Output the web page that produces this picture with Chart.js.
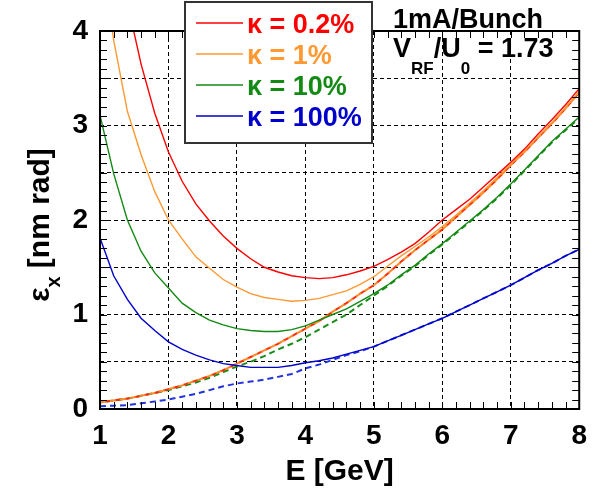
<!DOCTYPE html>
<html>
<head>
<meta charset="utf-8">
<title>Emittance vs energy</title>
<script src="https://cdn.jsdelivr.net/npm/chart.js@4.4.1/dist/chart.umd.min.js"></script>
<style>
    html, body { margin: 0; padding: 0; background: #fff; }
    #wrap { width: 597px; height: 491px; }
</style>
</head>
<body>
<div id="wrap"><canvas id="emitChart" width="597" height="491"></canvas></div>
<script>
// Beam energy [GeV], one point every 0.2 GeV.
const energy = [1.0, 1.2, 1.4, 1.6, 1.8, 2.0, 2.2, 2.4, 2.6, 2.8, 3.0, 3.2, 3.4, 3.6, 3.8, 4.0, 4.2, 4.4,
                4.6, 4.8, 5.0, 5.2, 5.4, 5.6, 5.8, 6.0, 6.2, 6.4, 6.6, 6.8, 7.0, 7.2, 7.4, 7.6, 7.8, 8.0];

// Emittance with 1 mA/bunch [nm rad] (solid lines).
const kappa02  = [6.2, 5.0, 4.3, 3.65, 3.13, 2.72, 2.41, 2.17, 1.99, 1.83, 1.70, 1.59, 1.50, 1.45, 1.41, 1.39, 1.38, 1.39,
                  1.42, 1.46, 1.51, 1.58, 1.66, 1.75, 1.87, 2.00, 2.11, 2.22, 2.35, 2.48, 2.61, 2.75, 2.91, 3.06, 3.22, 3.39];
const kappa1   = [5.0, 3.9, 3.15, 2.69, 2.30, 2.00, 1.80, 1.61, 1.49, 1.37, 1.29, 1.22, 1.18, 1.16, 1.14, 1.15, 1.17, 1.21,
                  1.25, 1.32, 1.40, 1.51, 1.62, 1.72, 1.82, 1.93, 2.05, 2.18, 2.31, 2.45, 2.59, 2.73, 2.88, 3.03, 3.19, 3.36];
const kappa10  = [3.11, 2.49, 2.00, 1.67, 1.44, 1.28, 1.12, 1.02, 0.94, 0.89, 0.85, 0.83, 0.82, 0.82, 0.84, 0.88, 0.94, 1.00,
                  1.06, 1.14, 1.22, 1.31, 1.42, 1.52, 1.64, 1.75, 1.87, 1.99, 2.11, 2.24, 2.38, 2.53, 2.68, 2.83, 2.96, 3.09];
const kappa100 = [1.81, 1.41, 1.16, 0.96, 0.83, 0.71, 0.63, 0.57, 0.52, 0.48, 0.46, 0.44, 0.44, 0.44, 0.46, 0.49, 0.51, 0.54,
                  0.58, 0.62, 0.66, 0.72, 0.78, 0.84, 0.90, 0.96, 1.03, 1.10, 1.17, 1.24, 1.31, 1.39, 1.47, 1.54, 1.62, 1.69];

// Zero current emittance [nm rad] (dashed lines).
const zero02  = [0.07, 0.09, 0.11, 0.14, 0.17, 0.21, 0.25, 0.30, 0.35, 0.41, 0.48, 0.55, 0.62, 0.69, 0.77, 0.85, 0.93, 1.03,
                 1.12, 1.22, 1.31, 1.43, 1.56, 1.68, 1.79, 1.90, 2.03, 2.16, 2.29, 2.43, 2.58, 2.72, 2.87, 3.02, 3.18, 3.35];
const zero1   = [0.07, 0.09, 0.11, 0.14, 0.17, 0.21, 0.25, 0.30, 0.35, 0.41, 0.48, 0.55, 0.62, 0.69, 0.77, 0.85, 0.93, 1.03,
                 1.12, 1.22, 1.31, 1.43, 1.56, 1.68, 1.79, 1.90, 2.03, 2.16, 2.29, 2.43, 2.58, 2.72, 2.87, 3.02, 3.18, 3.35];
const zero10  = [0.07, 0.09, 0.11, 0.14, 0.17, 0.20, 0.24, 0.28, 0.33, 0.39, 0.45, 0.50, 0.56, 0.63, 0.69, 0.76, 0.84, 0.92,
                 1.00, 1.10, 1.20, 1.30, 1.41, 1.51, 1.63, 1.74, 1.86, 1.98, 2.10, 2.23, 2.37, 2.52, 2.67, 2.82, 2.95, 3.08];
const zero100 = [0.03, 0.035, 0.04, 0.06, 0.08, 0.10, 0.13, 0.16, 0.20, 0.24, 0.27, 0.29, 0.31, 0.34, 0.37, 0.43, 0.47, 0.52,
                 0.57, 0.61, 0.66, 0.72, 0.78, 0.84, 0.90, 0.96, 1.03, 1.10, 1.17, 1.24, 1.31, 1.39, 1.47, 1.54, 1.62, 1.69];

// Legend labels and colours.
const legendLabels = ['κ = 0.2%', 'κ = 1%', 'κ = 10%', 'κ = 100%'];
const seriesColors = ['#ff0000', '#ff9933', '#138a13', '#0000cc'];

const FONT = '"Liberation Sans", Arial, Helvetica, sans-serif';


// Turn a value array into {x, y} points along the energy axis.
const toPoints = (vals) => energy.map((e, i) => ({ x: e, y: vals[i] }));

const solid = (vals, color) => ({
    data: toPoints(vals),
    borderColor: color,
    borderWidth: 1.4,
    pointRadius: 0,
    tension: 0,
    fill: false
});

const dashed = (vals, color, offset) => ({
    data: toPoints(vals),
    borderColor: color,
    borderWidth: 2,
    borderDash: [6, 4],
    borderDashOffset: offset || 0,
    pointRadius: 0,
    tension: 0,
    fill: false
});


// Frame, inner ticks, legend box, annotations and y title.
const decorPlugin = {
    id: 'decor',
    afterDraw(chart) {
        const ctx = chart.ctx,
            area = chart.chartArea,
            xs = chart.scales.x,
            ys = chart.scales.y;

        ctx.save();
        ctx.setLineDash([]);

        // minor ticks, pointing inwards on all four sides
        ctx.strokeStyle = '#000';
        ctx.lineWidth = 1;
        ctx.beginPath();
        for (let i = 1; i < 40; i++) {
            const py = Math.round(ys.getPixelForValue(i / 10)) + 0.5;
            ctx.moveTo(area.left, py);
            ctx.lineTo(area.left + 7, py);
            ctx.moveTo(area.right, py);
            ctx.lineTo(area.right - 7, py);
        }
        for (let i = 1; i < 35; i++) {
            const px = Math.round(xs.getPixelForValue(1 + i / 5)) + 0.5;
            ctx.moveTo(px, area.bottom);
            ctx.lineTo(px, area.bottom - 7);
            ctx.moveTo(px, area.top);
            ctx.lineTo(px, area.top + 7);
        }
        ctx.stroke();

        // plot frame
        ctx.lineWidth = 2;
        ctx.strokeRect(area.left, area.top, area.right - area.left, area.bottom - area.top);

        // legend box
        ctx.fillStyle = '#fff';
        ctx.fillRect(185, 2, 187, 141);
        ctx.strokeStyle = '#333';
        ctx.lineWidth = 2;
        ctx.strokeRect(185, 2, 187, 141);

        ctx.font = 'bold 27px ' + FONT;
        ctx.textBaseline = 'middle';
        ctx.textAlign = 'left';
        legendLabels.forEach((label, i) => {
            const ly = 23 + i * 31;
            ctx.strokeStyle = seriesColors[i];
            ctx.lineWidth = 1.4;
            ctx.beginPath();
            ctx.moveTo(196, ly);
            ctx.lineTo(243, ly);
            ctx.stroke();
            ctx.fillStyle = seriesColors[i];
            ctx.fillText(label, 247, ly + 3);
        });

        // annotations, top right
        ctx.fillStyle = '#000';
        ctx.textBaseline = 'alphabetic';
        ctx.font = 'bold 27px ' + FONT;
        ctx.fillText('1mA/Bunch', 393, 28);

        let tx = 393;
        const put = (txt, size, dy) => {
            ctx.font = 'bold ' + size + 'px ' + FONT;
            ctx.fillText(txt, tx, 57 + dy);
            tx += ctx.measureText(txt).width;
        };
        put('V', 27, 0);
        put('RF', 17, 17);
        put('/U', 27, 0);
        put('0', 17, 17);
        put(' = 1.73', 27, 0);

        // y axis title, rotated, with subscript
        ctx.translate(49, 225);
        ctx.rotate(-Math.PI / 2);
        const parts = [['ε', 30, 0], ['x', 20, 11], [' [nm rad]', 30, 0]];
        let total = 0;
        parts.forEach(p => {
            ctx.font = 'bold ' + p[1] + 'px ' + FONT;
            total += ctx.measureText(p[0]).width;
        });
        let cx = -total / 2;
        parts.forEach(p => {
            ctx.font = 'bold ' + p[1] + 'px ' + FONT;
            ctx.fillText(p[0], cx, p[2]);
            cx += ctx.measureText(p[0]).width;
        });

        ctx.restore();
    }
};


const ctx = document.getElementById('emitChart').getContext('2d');

const emitChart = new Chart(ctx, {
    type: 'line',
    data: {
        datasets: [
            solid(kappa02, seriesColors[0]),
            solid(kappa1, seriesColors[1]),
            solid(kappa10, seriesColors[2]),
            solid(kappa100, seriesColors[3]),
            dashed(zero1, '#ff8a2a'),
            dashed(zero02, '#ff2a00', 5),
            dashed(zero10, '#1a8c1a', 3),
            dashed(zero100, '#2233dd')
        ]
    },
    options: {
        responsive: false,
        animation: false,
        events: [],
        devicePixelRatio: 1,
        layout: {
            padding: { top: 31, right: 15, left: 0, bottom: 0 }
        },
        scales: {
            x: {
                type: 'linear',
                min: 1,
                max: 8,
                afterFit: (scale) => { scale.height = 82; },
                ticks: {
                    stepSize: 1,
                    padding: 10,
                    color: '#000',
                    font: { family: FONT, size: 28, weight: 'bold' }
                },
                grid: {
                    color: '#000',
                    lineWidth: 1,
                    drawTicks: false
                },
                border: { display: false, dash: [4, 3] },
                title: {
                    display: true,
                    text: 'E [GeV]',
                    color: '#000',
                    padding: { top: 0, bottom: 1 },
                    font: { family: FONT, size: 30, weight: 'bold' }
                }
            },
            y: {
                min: 0,
                max: 4,
                afterFit: (scale) => { scale.width = 100; },
                ticks: {
                    stepSize: 0.5,
                    padding: 12,
                    color: '#000',
                    font: { family: FONT, size: 28, weight: 'bold' },
                    callback: (v) => (v % 1 === 0 ? v : '')
                },
                grid: {
                    color: '#000',
                    lineWidth: 1,
                    drawTicks: false
                },
                border: { display: false, dash: [4, 3] }
            }
        },
        plugins: {
            legend: { display: false },
            tooltip: { enabled: false },
            title: { display: false }
        }
    },
    plugins: [decorPlugin]
});
</script>
</body>
</html>
